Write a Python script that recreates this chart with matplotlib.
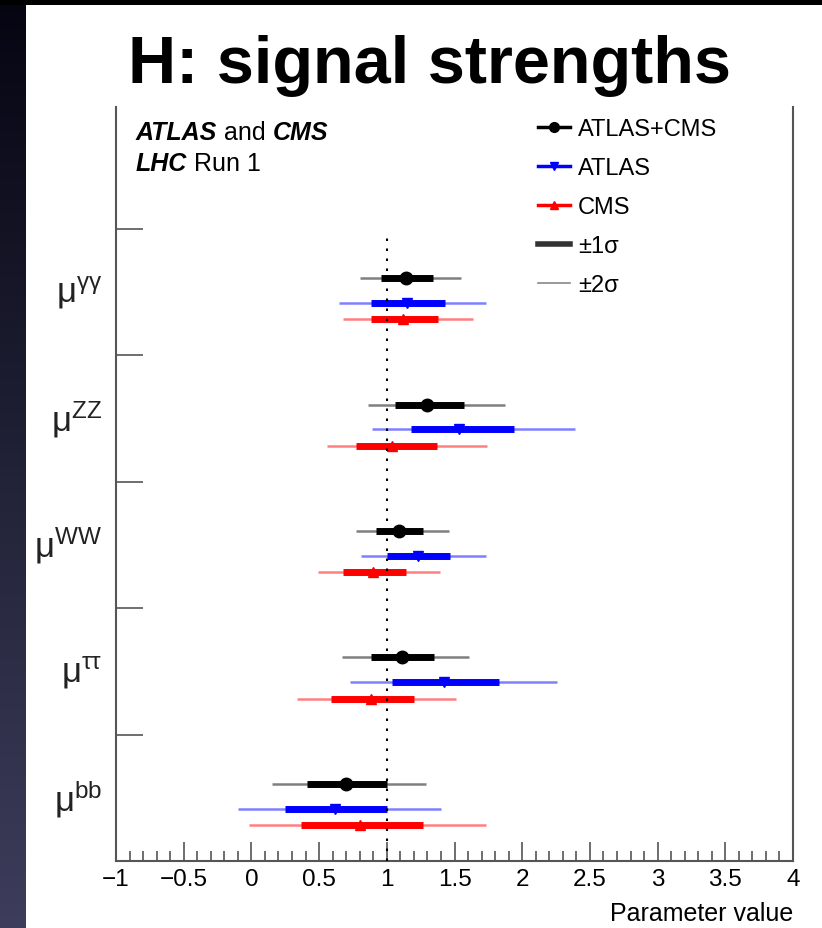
import numpy as np
import matplotlib
matplotlib.use('Agg')
import matplotlib.pyplot as plt
from matplotlib.lines import Line2D

plt.rcParams['font.family'] = ['Liberation Sans', 'DejaVu Sans']
plt.rcParams['mathtext.fontset'] = 'custom'
plt.rcParams['mathtext.rm'] = 'Liberation Sans'
plt.rcParams['mathtext.it'] = 'Liberation Sans:italic'
plt.rcParams['mathtext.bf'] = 'Liberation Sans:bold'
plt.rcParams['mathtext.default'] = 'regular'

# Decay channels, bottom to top
channels = ['bb', 'ττ', 'WW', 'ZZ', 'γγ']
channel_labels = [r'$\mu^{bb}$', r'$\mu^{\tau\tau}$', r'$\mu^{WW}$', r'$\mu^{ZZ}$', r'$\mu^{\gamma\gamma}$']

# best fit, -1 sigma, +1 sigma, -2 sigma, +2 sigma (absolute bounds)
comb_mu = [0.70, 1.11, 1.09, 1.30, 1.14]
comb_1lo = [0.41, 0.88, 0.92, 1.06, 0.96]
comb_1hi = [1.00, 1.35, 1.27, 1.57, 1.34]
comb_2lo = [0.15, 0.67, 0.77, 0.86, 0.80]
comb_2hi = [1.29, 1.61, 1.46, 1.87, 1.55]

atlas_mu = [0.62, 1.42, 1.23, 1.53, 1.15]
atlas_1lo = [0.25, 1.04, 1.00, 1.18, 0.88]
atlas_1hi = [1.00, 1.83, 1.47, 1.94, 1.43]
atlas_2lo = [-0.10, 0.73, 0.81, 0.89, 0.65]
atlas_2hi = [1.40, 2.26, 1.73, 2.39, 1.73]

cms_mu = [0.80, 0.88, 0.90, 1.04, 1.12]
cms_1lo = [0.37, 0.59, 0.68, 0.77, 0.88]
cms_1hi = [1.27, 1.20, 1.14, 1.37, 1.38]
cms_2lo = [-0.02, 0.34, 0.49, 0.56, 0.68]
cms_2hi = [1.73, 1.51, 1.39, 1.74, 1.64]

sm_value = 1.0

series = [
    ('ATLAS+CMS', 'black', 'o', 9.0, 0.61, comb_mu, comb_1lo, comb_1hi, comb_2lo, comb_2hi),
    ('ATLAS', 'blue', 'v', 7.5, 0.415, atlas_mu, atlas_1lo, atlas_1hi, atlas_2lo, atlas_2hi),
    ('CMS', 'red', '^', 7.5, 0.285, cms_mu, cms_1lo, cms_1hi, cms_2lo, cms_2hi),
]

fig = plt.figure(figsize=(8.22, 9.29), dpi=100)
fig.patch.set_facecolor('white')

# dark slide border on the left and top
strip = fig.add_axes([0, 0, 25 / 822, 1])
grad = np.linspace(0, 1, 256).reshape(-1, 1)
top_col = np.array([0.02, 0.02, 0.07])
bot_col = np.array([0.24, 0.24, 0.36])
strip.imshow(top_col + grad[:, :, None] * (bot_col - top_col), aspect='auto')
strip.axis('off')
top = fig.add_axes([0, 1 - 6 / 929, 1, 6 / 929])
top.set_facecolor('black')
top.set_xticks([])
top.set_yticks([])
for s in top.spines.values():
    s.set_visible(False)

fig.text(0.522, 1 - 83 / 929, 'H: signal strengths', ha='center', va='baseline',
         fontsize=48, fontweight='bold')

ax = fig.add_axes([116 / 822, 1 - 862 / 929, 677 / 822, 754 / 929])
ax.set_xlim(-1, 4)
ax.set_ylim(0, 5.965)

y = np.arange(len(channels))
for name, col, mk, ms, off, mu, lo1, hi1, lo2, hi2 in series:
    yy = y + off
    ax.hlines(yy, lo2, hi2, color=col, lw=1.8, alpha=0.5, zorder=2)
    ax.hlines(yy, lo1, hi1, color=col, lw=5, zorder=3)
    ax.plot(mu, yy, ls='none', marker=mk, ms=ms, color=col, zorder=4)

ax.vlines(sm_value, 0, len(channels) - 0.04, color='black', lw=1.5,
          linestyles=(0, (1.2, 3.6)), zorder=5)

# axis style
ax.spines['top'].set_visible(False)
for s in ['left', 'right', 'bottom']:
    ax.spines[s].set_color('#555555')
    ax.spines[s].set_linewidth(1.5)
ax.set_xticks(np.arange(-1, 4.01, 0.5))
ax.set_xticklabels(['−1', '−0.5', '0', '0.5', '1', '1.5', '2', '2.5', '3', '3.5', '4'])
ax.set_xticks(np.arange(-1, 4.01, 0.1), minor=True)
ax.tick_params(axis='x', which='major', direction='in', length=13.5, width=1.2,
               color='#555555', labelsize=17.5, pad=5)
ax.tick_params(axis='x', which='minor', direction='in', length=7, width=1.2, color='#555555')
ax.set_yticks(np.arange(1, len(channels) + 1))
ax.set_yticklabels([])
ax.tick_params(axis='y', direction='in', length=19.5, width=1.2, color='#555555')
ax.set_xlabel('Parameter value', loc='right', fontsize=18, labelpad=8)

for yi, lab in zip(y, channel_labels):
    ax.text(-0.02, yi + 0.5, lab, transform=ax.get_yaxis_transform(),
            ha='right', va='center', fontsize=25, color='#222222')

# experiment tag, mixed bold italic / regular
t1 = ax.text(0.0295, 0.9576, 'ATLAS', transform=ax.transAxes, fontsize=18,
             fontweight='bold', style='italic', va='baseline')
t2 = ax.annotate(' and ', xy=(1, 0), xycoords=t1, fontsize=18, va='bottom')
ax.annotate('CMS', xy=(1, 0), xycoords=t2, fontsize=18, fontweight='bold',
            style='italic', va='bottom')
t3 = ax.text(0.0295, 0.917, 'LHC', transform=ax.transAxes, fontsize=18,
             fontweight='bold', style='italic', va='baseline')
ax.annotate(' Run 1', xy=(1, 0), xycoords=t3, fontsize=18, va='bottom')

handles = [
    Line2D([], [], color='black', lw=2.5, marker='o', ms=7),
    Line2D([], [], color='blue', lw=2.5, marker='v', ms=6),
    Line2D([], [], color='red', lw=2.5, marker='^', ms=6),
    Line2D([], [], color='#333333', lw=4),
    Line2D([], [], color='#888888', lw=1.2),
]
labels = ['ATLAS+CMS', 'ATLAS', 'CMS', '±1σ', '±2σ']
ax.legend(handles, labels, loc='upper left', bbox_to_anchor=(0.623, 0.985),
          frameon=False, fontsize=17, borderpad=0, borderaxespad=0,
          handlelength=1.35, handletextpad=0.35, labelspacing=0.72)

fig.savefig('out.png', dpi=100, facecolor='white')
